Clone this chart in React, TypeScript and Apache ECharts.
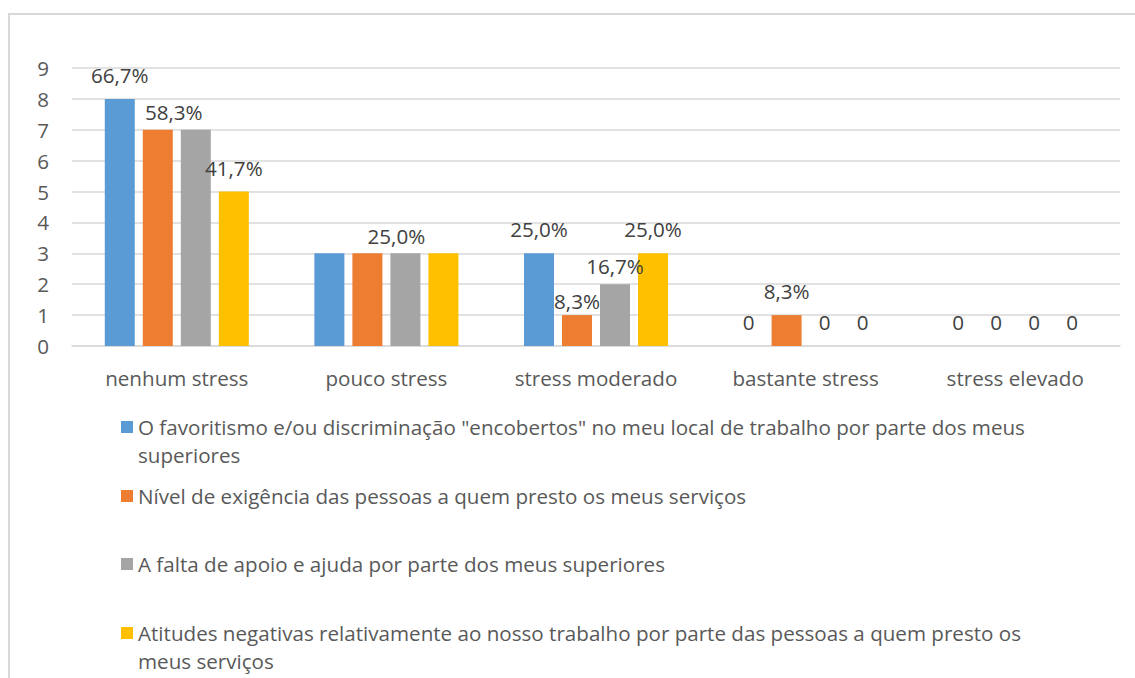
import React, { useEffect, useRef } from "react";
import * as echarts from "echarts";

const CATEGORIES = ["nenhum stress", "pouco stress", "stress moderado", "bastante stress", "stress elevado"];
const SERIES_NAMES = [
  'O favoritismo e/ou discriminação "encobertos" no meu local de trabalho por parte dos meus superiores',
  "Nível de exigência das pessoas a quem presto os meus serviços",
  "A falta de apoio e ajuda por parte dos meus superiores",
  "Atitudes negativas relativamente ao nosso trabalho por parte das pessoas a quem presto os meus serviços",
];
const FAVORITISMO = [8, 3, 3, 0, 0];
const EXIGENCIA = [7, 3, 1, 1, 0];
const FALTA_APOIO = [7, 3, 2, 0, 0];
const ATITUDES = [5, 3, 3, 0, 0];
const SERIES_VALUES = [FAVORITISMO, EXIGENCIA, FALTA_APOIO, ATITUDES];
const RESPONDENTS = 12;
const Y_MIN = 0;
const Y_MAX = 9;
const Y_STEP = 1;
// which data labels are visible in the original
const SHOW_LABEL = [
  [true, false, true, true, true],
  [true, true, true, true, true],
  [false, false, true, true, true],
  [true, false, true, true, true],
];

// styling (positions) kept apart from data
const COLORS = ["#5B9BD5", "#ED7D31", "#A5A5A5", "#FFC000"];
const LABEL_TWEAKS: Record<string, { dx?: number; dist?: number }> = {
  "1-0": { dx: 16, dist: 6 },
  "1-1": { dx: 29, dist: 5 },
  "1-2": { dist: 2 },
  "2-2": { dist: 6 },
};
const LEGEND_WRAP_AFTER = [14, 0, 0, 14];
const LEGEND_ICON_CENTERS = [427, 496, 564, 633];
const FONT = "'Open Sans', sans-serif";
const FS = 20.6;
const TEXT = "#595959";

function wrapName(name: string, after: number) {
  if (!after) return name;
  const w = name.split(" ");
  return "\n" + w.slice(0, after).join(" ") + "\n" + w.slice(after).join(" ");
}

function fmtLabel(v: number) {
  if (v === 0) return "0";
  return ((v / RESPONDENTS) * 100).toFixed(1).replace(".", ",") + "%";
}

export default function App() {
  const ref = useRef<HTMLDivElement>(null);
  useEffect(() => {
    if (!ref.current) return;
    const chart = echarts.init(ref.current, undefined, { renderer: "svg" });
    const LH = 28;
    const series = SERIES_VALUES.map((vals, si) => ({
      name: SERIES_NAMES[si],
      type: "bar",
      barWidth: 30,
      barGap: "26.7%",
      itemStyle: { color: COLORS[si] },
      data: vals.map((v, ci) => {
        const t = LABEL_TWEAKS[`${si}-${ci}`] || {};
        return {
          value: v,
          label: {
            show: SHOW_LABEL[si][ci],
            position: "top",
            distance: t.dist ?? 12,
            offset: [t.dx ?? 0, 0],
            formatter: (p: any) => fmtLabel(p.value),
            fontSize: FS,
            fontFamily: FONT,
            color: "#404040",
            lineHeight: 24,
          },
        };
      }),
    }));
    const legends = SERIES_NAMES.map((name, i) => {
      const multi = LEGEND_WRAP_AFTER[i] > 0;
      const halfH = multi ? (3 * LH) / 2 : LH / 2;
      return {
        data: [name],
        orient: "vertical",
        left: 121,
        top: LEGEND_ICON_CENTERS[i] - halfH,
        padding: 0,
        icon: "rect",
        itemWidth: 12,
        itemHeight: 12,
        selectedMode: false,
        formatter: (n: string) => wrapName(n, LEGEND_WRAP_AFTER[SERIES_NAMES.indexOf(n)]),
        textStyle: { fontSize: FS, fontFamily: FONT, color: TEXT, lineHeight: LH },
      };
    });
    chart.setOption({
      animation: false,
      backgroundColor: "#ffffff",
      textStyle: { fontFamily: FONT },
      graphic: [
        {
          type: "rect",
          shape: { x: 9, y: 14, width: 1300, height: 1000 },
          style: { fill: "none", stroke: "#d9d9d9", lineWidth: 2 },
          silent: true,
        },
      ],
      grid: { left: 72, right: 15, top: 68, bottom: 332, containLabel: false },
      legend: legends,
      xAxis: {
        type: "category",
        data: CATEGORIES,
        axisTick: { show: false },
        axisLine: { lineStyle: { color: "#d9d9d9", width: 1.5 } },
        axisLabel: { interval: 0, fontSize: FS, fontFamily: FONT, color: TEXT, margin: 20, lineHeight: 24 },
      },
      yAxis: {
        type: "value",
        min: Y_MIN,
        max: Y_MAX,
        interval: Y_STEP,
        axisLine: { show: false },
        axisTick: { show: false },
        splitLine: { lineStyle: { color: "#d9d9d9", width: 1.5 } },
        axisLabel: { fontSize: FS, fontFamily: FONT, color: TEXT, margin: 23 },
      },
      series,
    });
    return () => chart.dispose();
  }, []);
  return (
    <div
      ref={ref}
      style={{ position: "fixed", left: 0, top: 0, width: 1135, height: 678, background: "#fff" }}
    />
  );
}
